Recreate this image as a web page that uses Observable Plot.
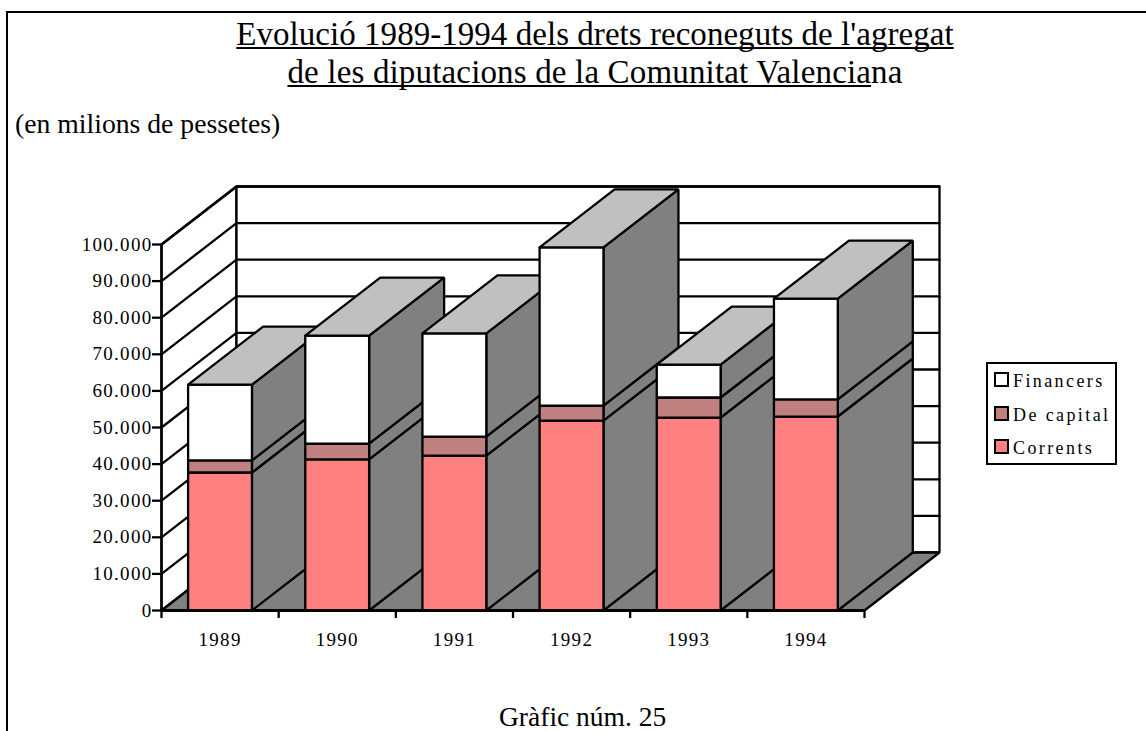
<!DOCTYPE html>
<html><head><meta charset="utf-8">
<script src="https://cdn.jsdelivr.net/npm/d3@7"></script>
<script src="https://cdn.jsdelivr.net/npm/@observablehq/plot@0.6"></script>
<style>
html,body{margin:0;padding:0;background:#fff;overflow:hidden;}
#page{position:relative;width:1146px;height:731px;overflow:hidden;font-family:"Liberation Serif",serif;color:#000;}
#frameT{position:absolute;left:6px;top:11px;right:0;height:2px;background:#000;}
#frameL{position:absolute;left:6px;top:11px;bottom:0;width:2px;background:#000;}
.t{position:absolute;white-space:nowrap;}
.title{left:0;width:1190px;text-align:center;font-size:33px;line-height:36px;}
.title u{text-decoration-thickness:2px;text-underline-offset:2.2px;text-decoration-skip-ink:none;}
#chart{position:absolute;left:-0.5px;top:149.5px;}
#legend{position:absolute;left:986px;top:362px;width:127px;height:99px;border:2.5px solid #000;background:#fff;font-size:18px;letter-spacing:2.4px;}
.row{position:absolute;left:6px;height:20px;line-height:20px;}
.sw{position:absolute;left:0;top:1px;width:11px;height:11px;border:2.5px solid #000;}
.lab{position:absolute;left:19px;top:0;white-space:nowrap;}
</style></head>
<body>
<div id="page">
  <div id="frameT"></div><div id="frameL"></div>
  <div class="t title" style="top:16px;letter-spacing:0.04px"><u>Evolució 1989-1994 dels drets reconeguts de l'agregat</u></div>
  <div class="t title" style="top:54px;letter-spacing:0.16px"><u>de les diputacions de la Comunitat Valencia</u>na</div>
  <div class="t" style="left:15px;top:106px;font-size:27.7px;line-height:36px">(en milions de pessetes)</div>
  <div id="chart"></div>
  <div class="t" style="left:499px;top:702px;font-size:27.5px;line-height:30px">Gràfic núm. 25</div>
  <div id="legend"></div>
</div>
<script>
const years = [1989, 1990, 1991, 1992, 1993, 1994];
const corrents  = [37700, 41300, 42300, 51900, 52700, 53000];
const deCapital = [3300, 4300, 5200, 4100, 5500, 4700];
const financers = [20700, 29500, 28200, 43200, 9000, 27500];
const yTicks = [0, 10000, 20000, 30000, 40000, 50000, 60000, 70000, 80000, 90000, 100000];
const seriesNames = ["Financers", "De capital", "Corrents"];
const seriesColors = ["#ffffff", "#c08080", "#ff8080"];
const sideColor = "#808080", topColor = "#c0c0c0";
const depthX = 0.64, depthY = 15850;
const barL = 0.227, barR = 0.772, n = years.length, yMax = 100000;
const faces = [];
let fid = 0;
function face(pts, c) {
  const id = fid++;
  [...pts, pts[0]].forEach(([x, y]) => faces.push({id, x, y, c}));
}
for (let i = 0; i < n; i++) {
  const l = i + barL, r = i + barR;
  const segs = [[corrents[i], seriesColors[2]], [deCapital[i], seriesColors[1]], [financers[i], seriesColors[0]]];
  let base = 0;
  for (const [v, c] of segs) {
    const t = base + v;
    face([[r, base], [r + depthX, base + depthY], [r + depthX, t + depthY], [r, t]], sideColor);
    face([[l, base], [r, base], [r, t], [l, t]], c);
    base = t;
  }
  face([[l, base], [r, base], [r + depthX, base + depthY], [l + depthX, base + depthY]], topColor);
}
const walls = [];
const wall = (id, pts, c) => [...pts, pts[0]].forEach(([x, y]) => walls.push({id, x, y, c}));
wall("left", [[0, 0], [depthX, depthY], [depthX, yMax + depthY], [0, yMax]], "#ffffff");
wall("back", [[depthX, depthY], [n + depthX, depthY], [n + depthX, yMax + depthY], [depthX, yMax + depthY]], "#ffffff");
wall("floor", [[0, 0], [n, 0], [n + depthX, depthY], [depthX, depthY]], sideColor);
const grid = yTicks.slice(1).flatMap(v => [
  {v, x: 0, y: v}, {v, x: depthX, y: v + depthY}, {v, x: n + depthX, y: v + depthY}
]);
const loc = d3.formatLocale({decimal: ",", thousands: ".", grouping: [3], currency: ["", ""]});
const fmt = loc.format(",");
const plot = Plot.plot({
  width: 1146, height: 540,
  marginLeft: 161, marginRight: 207, marginTop: 36, marginBottom: 80,
  style: {fontFamily: "Liberation Serif, serif", fontSize: "19px", letterSpacing: "1.3px", color: "#000", background: "transparent", overflow: "visible"},
  x: {type: "linear", domain: [0, n + depthX], axis: null},
  y: {type: "linear", domain: [0, yMax + depthY], axis: null},
  color: {type: "identity"},
  marks: [
    Plot.line(walls, {x: "x", y: "y", z: "id", fill: "c", stroke: "#000", strokeWidth: 2.3, strokeLinejoin: "miter"}),
    Plot.line(grid, {x: "x", y: "y", z: "v", stroke: "#000", strokeWidth: 2.3}),
    Plot.line(faces, {x: "x", y: "y", z: "id", fill: "c", stroke: "#000", strokeWidth: 2.3, strokeLinejoin: "miter"}),
    Plot.ruleY([0], {x1: 0, x2: n, stroke: "#000", strokeWidth: 3}),
    Plot.ruleX([0], {y1: 0, y2: yMax, stroke: "#000", strokeWidth: 2.3}),
    Plot.axisY({ticks: yTicks, tickSize: 9, tickPadding: 0, tickFormat: fmt, strokeWidth: 2.3, label: null, stroke: "#000", fill: "#000"}),
    Plot.axisX({ticks: d3.range(n + 1), tickSize: 8, tickFormat: () => "", strokeWidth: 2.3, label: null, stroke: "#000"}),
    Plot.text(years, {x: (d, i) => i + 0.5, y: () => 0, text: d => String(d), dy: 29, fill: "#000"})
  ]
});
document.getElementById("chart").append(plot);
const lg = document.getElementById("legend");
seriesNames.forEach((name, i) => {
  const row = document.createElement("div");
  row.className = "row";
  row.style.top = (7 + i * 33.5) + "px";
  row.innerHTML = `<div class="sw" style="background:${seriesColors[i]}"></div><div class="lab">${name}</div>`;
  lg.append(row);
});
</script>
</body></html>
